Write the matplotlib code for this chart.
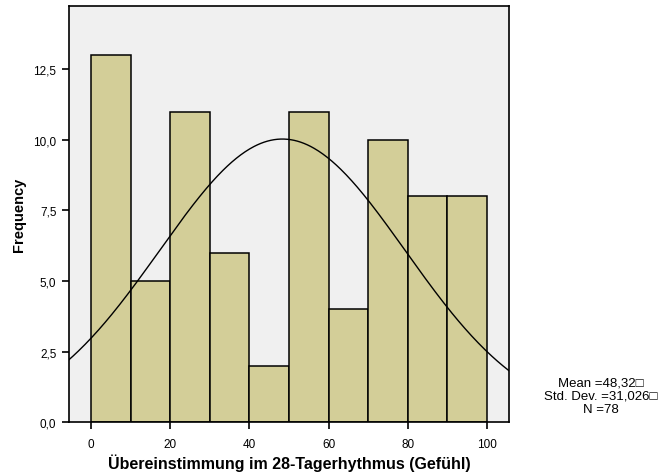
import matplotlib
matplotlib.use("Agg")
import matplotlib.pyplot as plt
import numpy as np

# histogram bins (Übereinstimmung im 28-Tagerhythmus) and counts
bin_edges = [0, 10, 20, 30, 40, 50, 60, 70, 80, 90, 100]
counts = [13, 5, 11, 6, 2, 11, 4, 10, 8, 8]
mean = 48.32
std = 31.026
n = 78

x_ticks = [0, 20, 40, 60, 80, 100]
y_ticks = [0, 2.5, 5.0, 7.5, 10.0, 12.5]
y_tick_labels = ["0,0", "2,5", "5,0", "7,5", "10,0", "12,5"]

plt.rcParams["font.family"] = ["Liberation Sans", "DejaVu Sans"]

fig = plt.figure(figsize=(6.62, 4.77), dpi=100)
ax = fig.add_axes([0.1042, 0.1126, 0.769 - 0.1042, 0.9853 - 0.1126])
ax.set_facecolor("#f0f0f0")

lefts = np.array(bin_edges[:-1])
widths = np.diff(bin_edges)
ax.bar(lefts, counts, width=widths, align="edge", color="#d3ce98",
       edgecolor="black", linewidth=1.1)

# normal curve scaled to counts
xs = np.linspace(-6, 106, 400)
ys = n * widths[0] / (std * np.sqrt(2 * np.pi)) * np.exp(-0.5 * ((xs - mean) / std) ** 2)
ax.plot(xs, ys, color="black", linewidth=1.0)

ax.set_xlim(-5.6, 105.6)
ax.set_ylim(0, 14.74)
ax.set_xticks(x_ticks)
ax.set_xticklabels([str(t) for t in x_ticks])
ax.set_yticks(y_ticks)
ax.set_yticklabels(y_tick_labels)
ax.tick_params(axis="both", labelsize=8.5, length=5, width=1.2, direction="out")
ax.tick_params(axis="x", pad=6)
ax.tick_params(axis="y", pad=4)
for s in ax.spines.values():
    s.set_linewidth(1.2)

ax.set_xlabel("Übereinstimmung im 28-Tagerhythmus (Gefühl)", fontsize=11.5,
              fontweight="bold", labelpad=3)
ax.set_ylabel("Frequency", fontsize=10.5, fontweight="bold", labelpad=5)

fig.text(0.908, 0.168, "Mean =48,32\u25a1\nStd. Dev. =31,026\u25a1\nN =78",
         ha="center", va="center", fontsize=9.5, linespacing=1.1)

fig.savefig("out.png", dpi=100)
